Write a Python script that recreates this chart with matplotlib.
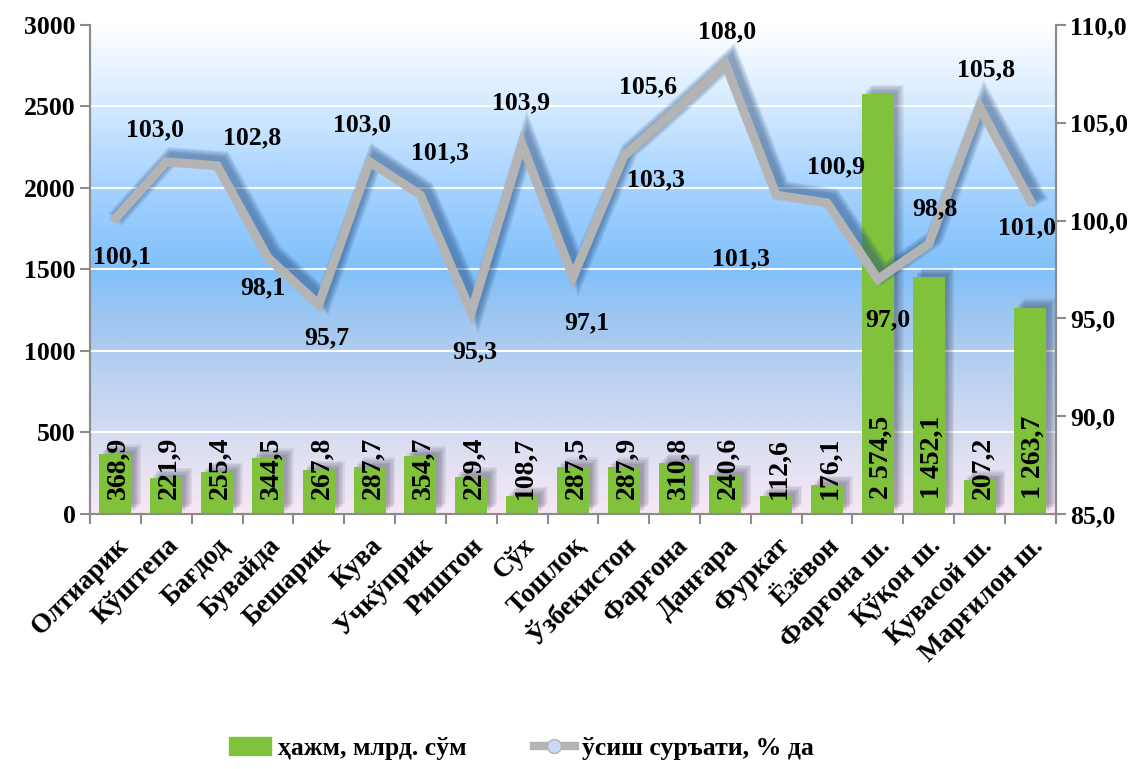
import numpy as np
import matplotlib.pyplot as plt
import matplotlib.patheffects as pe
from matplotlib.colors import LinearSegmentedColormap
from matplotlib.lines import Line2D
from matplotlib.patches import Patch

plt.rcParams['font.family'] = ['Liberation Serif', 'DejaVu Serif']
plt.rcParams['font.weight'] = 'bold'

districts = ["Олтиарик", "Кўштепа", "Бағдод", "Бувайда", "Бешарик", "Кува",
             "Учкўприк", "Риштон", "Сўх", "Тошлоқ", "Ўзбекистон", "Фарғона",
             "Данғара", "Фуркат", "Ёзёвон", "Фарғона ш.", "Қўқон ш.",
             "Қувасой ш.", "Марғилон ш."]
volume = [368.9, 221.9, 255.4, 344.5, 267.8, 287.7, 354.7, 229.4, 108.7, 287.5,
          287.9, 310.8, 240.6, 112.6, 176.1, 2574.5, 1452.1, 207.2, 1263.7]
growth = [100.1, 103.0, 102.8, 98.1, 95.7, 103.0, 101.3, 95.3, 103.9, 97.1,
          103.3, 105.6, 108.0, 101.3, 100.9, 97.0, 98.8, 105.8, 101.0]

# label offsets for the line values (pixels)
lab_off = [(7, -38), (-11, 32), (35, 28), (-5, -30), (8, -33), (-8, 37),
           (20, 42), (4, -39), (-1, 41), (14, -46), (32, -24), (-27, 24),
           (2, 32), (-35, -64), (9, 36), (10, -41), (6, 35), (6, 37), (-3, -27)]

def fmt(v):
    s = f"{v:,.1f}".replace(",", " ").replace(".", ",")
    return s

fig = plt.figure(figsize=(11.47, 7.69), dpi=100)
ax = fig.add_axes([0.0785, 0.3316, 0.842, 0.636])
x = np.arange(len(districts))

# gradient background
cmap = LinearSegmentedColormap.from_list("bg", [
    (0.0, "#f8e8f6"), (0.17, "#d4dcf0"), (0.38, "#a4c8f0"),
    (0.5, "#80c0fb"), (0.68, "#a8d4ff"), (0.85, "#d8ecff"), (1.0, "#ffffff")])
grad = np.linspace(0, 1, 256).reshape(-1, 1)
ax.imshow(grad, cmap=cmap, aspect="auto", origin="lower",
          extent=[0, 1, 0, 1], transform=ax.transAxes, zorder=0)

ax.set_ylim(0, 3000)
ax.set_xlim(-0.5, len(districts) - 0.5)
ax.set_yticks(np.arange(0, 3001, 500))
for yv in range(500, 3001, 500):
    ax.axhline(yv, color="white", lw=1.5, zorder=1)

shadow = [pe.SimplePatchShadow(offset=(o, o), shadow_rgbFace="#303040", alpha=0.08)
          for o in (2, 3, 4, 5, 6, 7)] + [pe.Normal()]
bars = ax.bar(x, volume, width=0.63, color="#80c23c", zorder=2)
for b in bars:
    b.set_path_effects(shadow)

for xi, v in zip(x, volume):
    ax.annotate(fmt(v), (xi, 0), xytext=(3, 15), textcoords="offset pixels",
                rotation=90, ha="center", va="bottom", fontsize=20,
                fontweight="bold", zorder=3)

ax.set_xticks(x)
ax.set_xticklabels(districts, rotation=45, ha="right", rotation_mode="anchor",
                   fontsize=19.5, fontweight="bold")
ax.set_xticks(np.arange(-0.5, len(districts), 1), minor=True)
ax.tick_params(axis="x", which="major", length=0, pad=14)
ax.tick_params(axis="x", which="minor", length=7, color="#8c8c8c", width=1.5)
ax.tick_params(axis="y", length=7, color="#8c8c8c", width=1.5, labelsize=18.5)
for lab in ax.get_yticklabels():
    lab.set_fontweight("bold")
ax.spines["top"].set_visible(False)
for s in ["left", "bottom", "right"]:
    ax.spines[s].set_color("#8c8c8c")
    ax.spines[s].set_linewidth(1.5)

ax2 = ax.twinx()
ax2.set_ylim(85, 110)
ax2.set_yticks(np.arange(85, 110.1, 5))
ax2.set_yticklabels([fmt(t) for t in np.arange(85, 110.1, 5)],
                    fontsize=18.5, fontweight="bold")
ax2.tick_params(axis="y", length=7, color="#8c8c8c", width=1.5)
ax2.spines["top"].set_visible(False)
for s in ["left", "bottom", "right"]:
    ax2.spines[s].set_color("#8c8c8c")
    ax2.spines[s].set_linewidth(1.5)

line_fx = [pe.Stroke(offset=(4, 4), linewidth=w, foreground="#24497a", alpha=0.12)
           for w in (13, 11, 9, 7, 5)] + [pe.Normal()]
ax2.plot(x, growth, color="#b4b4b4", lw=6.5, solid_joinstyle="miter",
         path_effects=line_fx, zorder=4)
for xi, v, (dx, dy) in zip(x, growth, lab_off):
    ax2.annotate(fmt(v), (xi, v), xytext=(dx, dy), textcoords="offset pixels",
                 ha="center", va="center", fontsize=18.5, fontweight="bold", zorder=5)

handles = [Patch(color="#80c23c"),
           Line2D([0], [0], color="#b4b4b4", lw=6, marker="o", markersize=10,
                  markerfacecolor="#c8dcf4", markeredgecolor="#b4b4b4")]
fig.legend(handles, ["ҳажм, млрд. сўм", "ўсиш суръати, % да"], loc="center",
           bbox_to_anchor=(0.455, 0.027), ncol=2, frameon=False,
           prop={"size": 18.5, "weight": "bold"}, handlelength=1.6,
           columnspacing=2.6, handletextpad=0.3)

fig.savefig("out.png", dpi=100)
